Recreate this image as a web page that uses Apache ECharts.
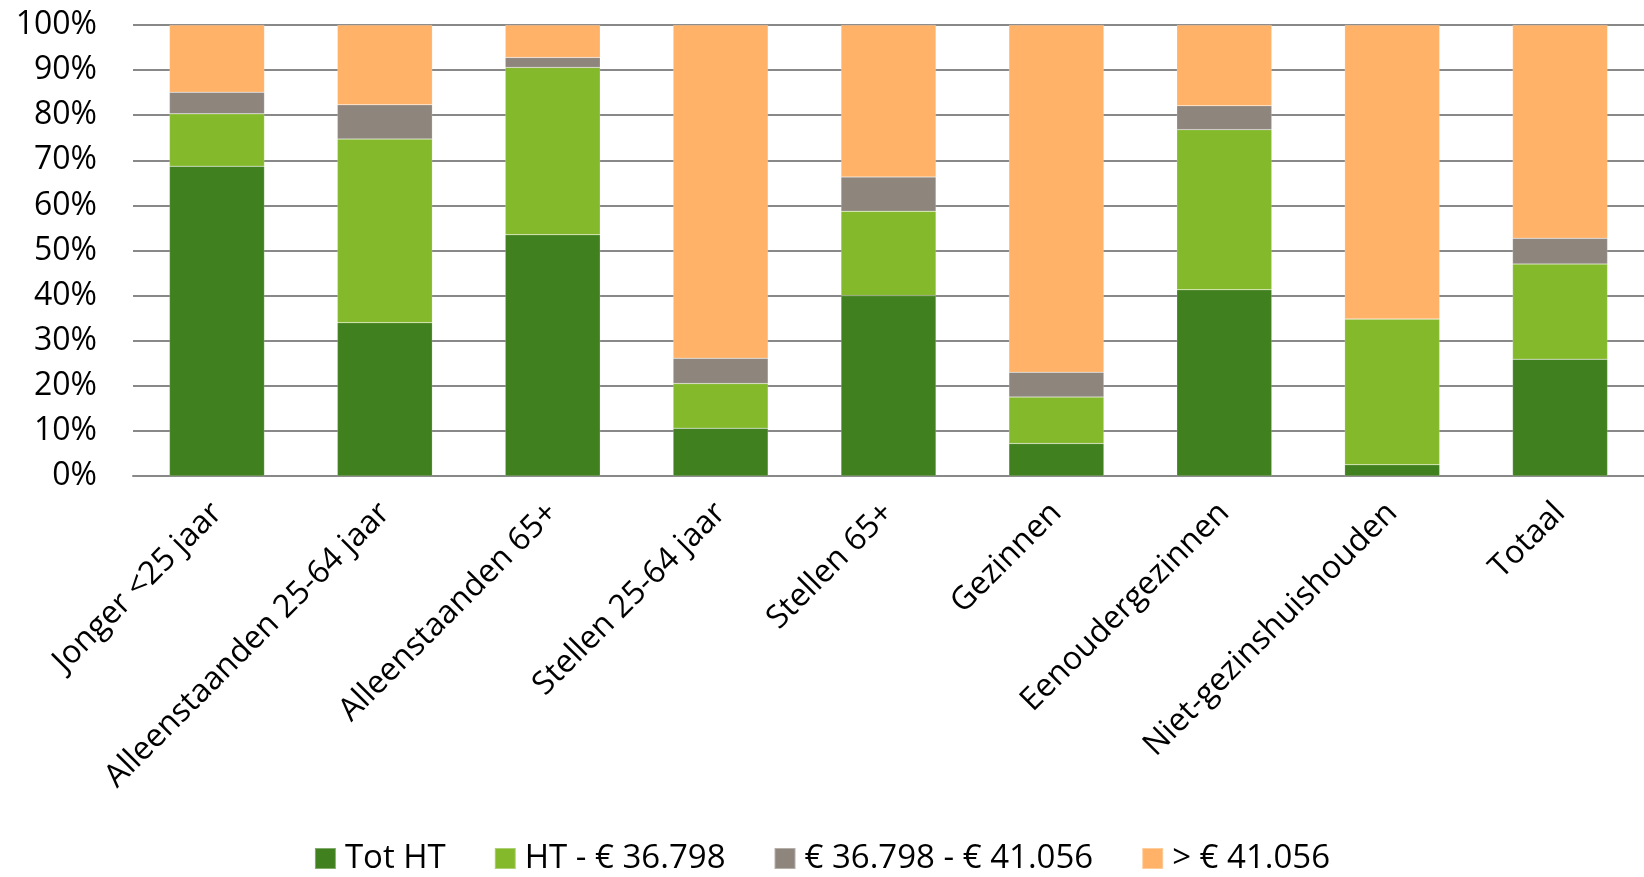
<!DOCTYPE html>
<html>
<head>
<meta charset="utf-8">
<script src="https://cdn.jsdelivr.net/npm/echarts@6/dist/echarts.min.js"></script>
<style>
  html, body { margin: 0; padding: 0; background: #fff; }
  #chart { width: 1644px; height: 877px; }
</style>
</head>
<body>
<div id="chart"></div>
<script>
var categories = ['Jonger <25 jaar', 'Alleenstaanden 25-64 jaar', 'Alleenstaanden 65+', 'Stellen 25-64 jaar',
                  'Stellen 65+', 'Gezinnen', 'Eenoudergezinnen', 'Niet-gezinshuishouden', 'Totaal'];
var seriesNames = ['Tot HT', 'HT - € 36.798', '€ 36.798 - € 41.056', '> € 41.056'];
var totHT      = [68.7, 34.0, 53.5, 10.6, 40.0,  7.2, 41.3,  2.5, 25.9];
var htTo36798  = [11.6, 40.7, 37.1,  9.9, 18.7, 10.3, 35.5, 32.3, 21.1];
var from36798  = [ 4.8,  7.6,  2.2,  5.6,  7.6,  5.5,  5.3,  0.0,  5.7];
var above41056 = [14.9, 17.7,  7.2, 73.9, 33.7, 77.0, 17.9, 65.2, 47.3];
var colors = ['#41801f', '#85b92c', '#8e857d', '#ffb268'];

var font = '"Open Sans", "DejaVu Sans", sans-serif';
var chart = echarts.init(document.getElementById('chart'));

function bar(name, data, color) {
    return {
        name: name,
        type: 'bar',
        stack: 'total',
        barWidth: 95,
        data: data,
        itemStyle: { color: color, borderColor: 'rgba(255,255,255,0.35)', borderWidth: 0.5 },
        emphasis: { disabled: true }
    };
}

var option = {
    animation: false,
    backgroundColor: '#fff',
    grid: { left: 133, right: 0, top: 25, bottom: 401 },
    legend: {
        bottom: -3,
        left: 'center',
        itemWidth: 21,
        itemHeight: 21,
        itemGap: 48,
        icon: 'rect',
        textStyle: { fontFamily: font, fontSize: 33, color: '#000', padding: [0, 0, 0, 4] },
        data: seriesNames
    },
    xAxis: {
        type: 'category',
        data: categories,
        axisTick: { show: false },
        axisLine: { lineStyle: { color: '#888', width: 2 } },
        axisLabel: {
            interval: 0,
            rotate: 45,
            margin: 32,
            fontFamily: font,
            fontSize: 32,
            color: '#000'
        }
    },
    yAxis: {
        type: 'value',
        min: 0,
        max: 100,
        interval: 10,
        axisLine: { show: false },
        axisTick: { show: false },
        splitLine: { lineStyle: { color: '#888', width: 2 } },
        axisLabel: {
            formatter: '{value}%',
            margin: 36,
            fontFamily: font,
            fontSize: 32,
            color: '#000'
        }
    },
    series: [
        bar(seriesNames[0], totHT, colors[0]),
        bar(seriesNames[1], htTo36798, colors[1]),
        bar(seriesNames[2], from36798, colors[2]),
        bar(seriesNames[3], above41056, colors[3])
    ]
};
chart.setOption(option);
</script>
</body>
</html>
